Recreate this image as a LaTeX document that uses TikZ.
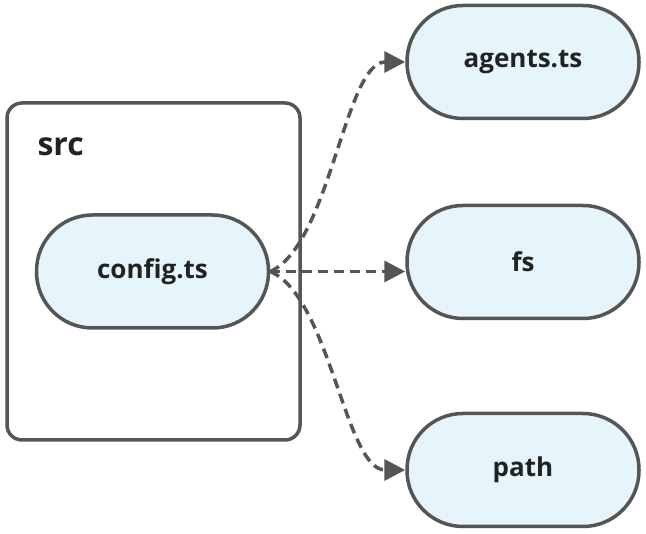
\documentclass[tikz,border=0pt]{standalone}
\usepackage{fontspec}
\setmainfont{Open Sans}
\usetikzlibrary{arrows.meta}

\definecolor{edgegray}{HTML}{555555}
\definecolor{fileblue}{HTML}{E6F4FB}
\definecolor{labelblack}{HTML}{222222}

\begin{document}
\begin{tikzpicture}[x=1pt, y=-1pt,
    >={Triangle[length=21pt,width=21pt]},
    file/.style={rectangle, rounded corners=56pt, draw=edgegray,
        line width=3.5pt, fill=fileblue,
        minimum width=232pt, minimum height=113pt,
        text=labelblack, font=\fontsize{26}{30}\selectfont\bfseries},
    dep/.style={->, draw=edgegray, line width=3.5pt,
        dash pattern=on 10pt off 6pt}
    ]

    \useasboundingbox (0,0) rectangle (646,534);

    % the src folder
    \node (src) [draw=edgegray, line width=3.5pt, rounded corners=15pt,
        minimum width=293pt, minimum height=337pt] at (153.5,271.5) {};
    \node (srclabel) [anchor=west, text=labelblack,
        font=\fontsize{32}{36}\selectfont\bfseries] at (34,147) {src};

    % files
    \node (config) [file] at (152.5,271.5) {config.ts};
    \node (agents) [file] at (523,62) {agents.ts};
    \node (fs) [file] at (523,262) {fs};
    \node (path) [file] at (523,470) {path};

    % imports
    \draw [dep] (config.east) .. controls (330,245) and (345,62) .. (agents.west);
    \draw [dep] (config.east) -- (config.east -| fs.west);
    \draw [dep] (config.east) .. controls (330,297) and (345,470) .. (path.west);

\end{tikzpicture}
\end{document}
